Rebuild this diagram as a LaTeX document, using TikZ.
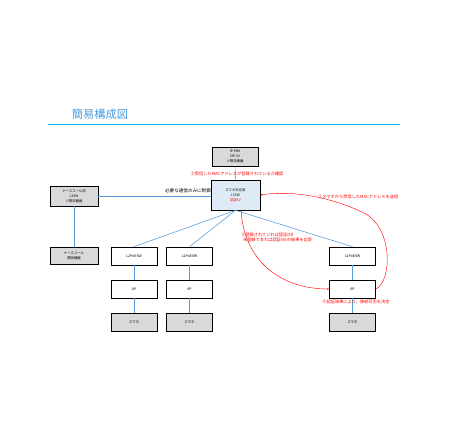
\documentclass[tikz,border=0pt]{standalone}
\usepackage{fontspec}
\setmainfont{Noto Sans CJK JP}
\usetikzlibrary{arrows.meta}
\definecolor{lineblue}{RGB}{91,155,213}
\definecolor{ruleblue}{RGB}{0,176,240}
\definecolor{headblue}{RGB}{70,155,225}
\definecolor{boxgray}{RGB}{217,217,217}
\definecolor{boxblue}{RGB}{222,235,247}
\begin{document}
\begin{tikzpicture}[x=0.05cm,y=-0.05cm,
  node distance=1.65cm,
  unit box/.style={rectangle,draw,line width=0.9pt,fill=white,inner sep=0pt,
    minimum width=2.3cm,minimum height=0.9cm,font=\fontsize{5}{6}\selectfont},
  phone box/.style={unit box,fill=boxgray},
  main box/.style={rectangle,draw,line width=0.9pt,inner sep=0pt,align=center,
    font=\fontsize{4.8}{7}\selectfont},
  link/.style={draw=lineblue,line width=0.8pt},
  auth/.style={draw=red,line width=0.6pt,-{Stealth[length=3pt,width=2.5pt]}},
  note/.style={text=red,inner sep=0pt,font=\fontsize{6}{7.5}\selectfont}]

  \useasboundingbox (0,0) rectangle (448,448);

  %% title
  \node (Title) at (100,114) [text=headblue,font=\fontsize{16}{18}\selectfont] {簡易構成図};
  \coordinate (RuleL) at (48,124.5);
  \coordinate (RuleR) at (400,124.5);
  \draw[ruleblue,line width=1.6pt] (RuleL) -- (RuleR);

  %% upper part
  \node (PBX) at (235,156.5) [main box,fill=boxgray,minimum width=2.3cm,minimum height=0.95cm]
    {IP-PBX\\SIP-SV\\※既存機器};
  \node (Core) at (235.5,195) [main box,fill=boxblue,minimum width=2.45cm,minimum height=1.5cm]
    {スマホ対応用\\L3SW\\\textcolor{red}{認証SV}};
  \node (NurseSW) at (74,196) [main box,fill=boxgray,minimum width=2.4cm,minimum height=1cm]
    {ナースコール用\\L3SW\\※既存機器};
  \node (NurseDev) at (74,255.5) [main box,fill=boxgray,minimum width=2.4cm,minimum height=0.85cm]
    {ナースコール\\既設機器};

  %% lower part
  \node (SWone) at (134,256) [unit box] {L2PoESW};
  \node (SWtwo) at (189.5,256) [unit box] {L2PoESW};
  \node (SWthree) at (352.5,256) [unit box] {L2PoESW};

  \node (APone) [unit box,below of=SWone] {AP};
  \node (APtwo) [unit box,below of=SWtwo] {AP};
  \node (APthree) [unit box,below of=SWthree] {AP};

  \node (PHone) [phone box,below of=APone] {スマホ};
  \node (PHtwo) [phone box,below of=APtwo] {スマホ};
  \node (PHthree) [phone box,below of=APthree] {スマホ};

  %% blue links
  \draw[link] (PBX) -- (Core);
  \draw[link] (NurseSW.east) -- (NurseSW.east -| Core.west);
  \draw[link] (NurseSW) -- (NurseDev);
  \draw[link] (Core.south) -- (SWone.north);
  \draw[link] (Core.south) -- (SWtwo.north);
  \draw[link] (Core.south) -- (SWthree.north);
  \draw[link] (SWone) -- (APone);
  \draw[link] (SWtwo) -- (APtwo);
  \draw[link] (SWthree) -- (APthree);
  \draw[link] (APone) -- (PHone);
  \draw[link] (APtwo) -- (PHtwo);
  \draw[link] (APthree) -- (PHthree);

  \node (Limit) at (211,193) [anchor=south east,inner sep=0pt,font=\fontsize{6.5}{7}\selectfont] {必要な通信のみに制御};

  %% red auth flow
  \draw[auth] (APthree.east) .. controls (392,282) and (394,226) .. (362,212)
    .. controls (330,197) and (292,190) .. (Core.east);
  \draw[auth] (Core.290) .. controls (244,262) and (282,289) .. (APthree.west);

  \node (StepOne) at (318,197) [note,anchor=west] {①スマホから受信したMACアドレスを送信};
  \node (StepTwo) at (237,174) [note] {②受信したMACアドレスが登録されているか確認};
  \node (StepThree) at (241,237.5) [note,anchor=west,align=left]
    {③登録されていれば認証OK\\\ \ 未登録であれば認証NGの結果を応答};
  \node (StepFour) at (356,302) [note] {④認証結果により、接続可否を決定};

\end{tikzpicture}
\end{document}
